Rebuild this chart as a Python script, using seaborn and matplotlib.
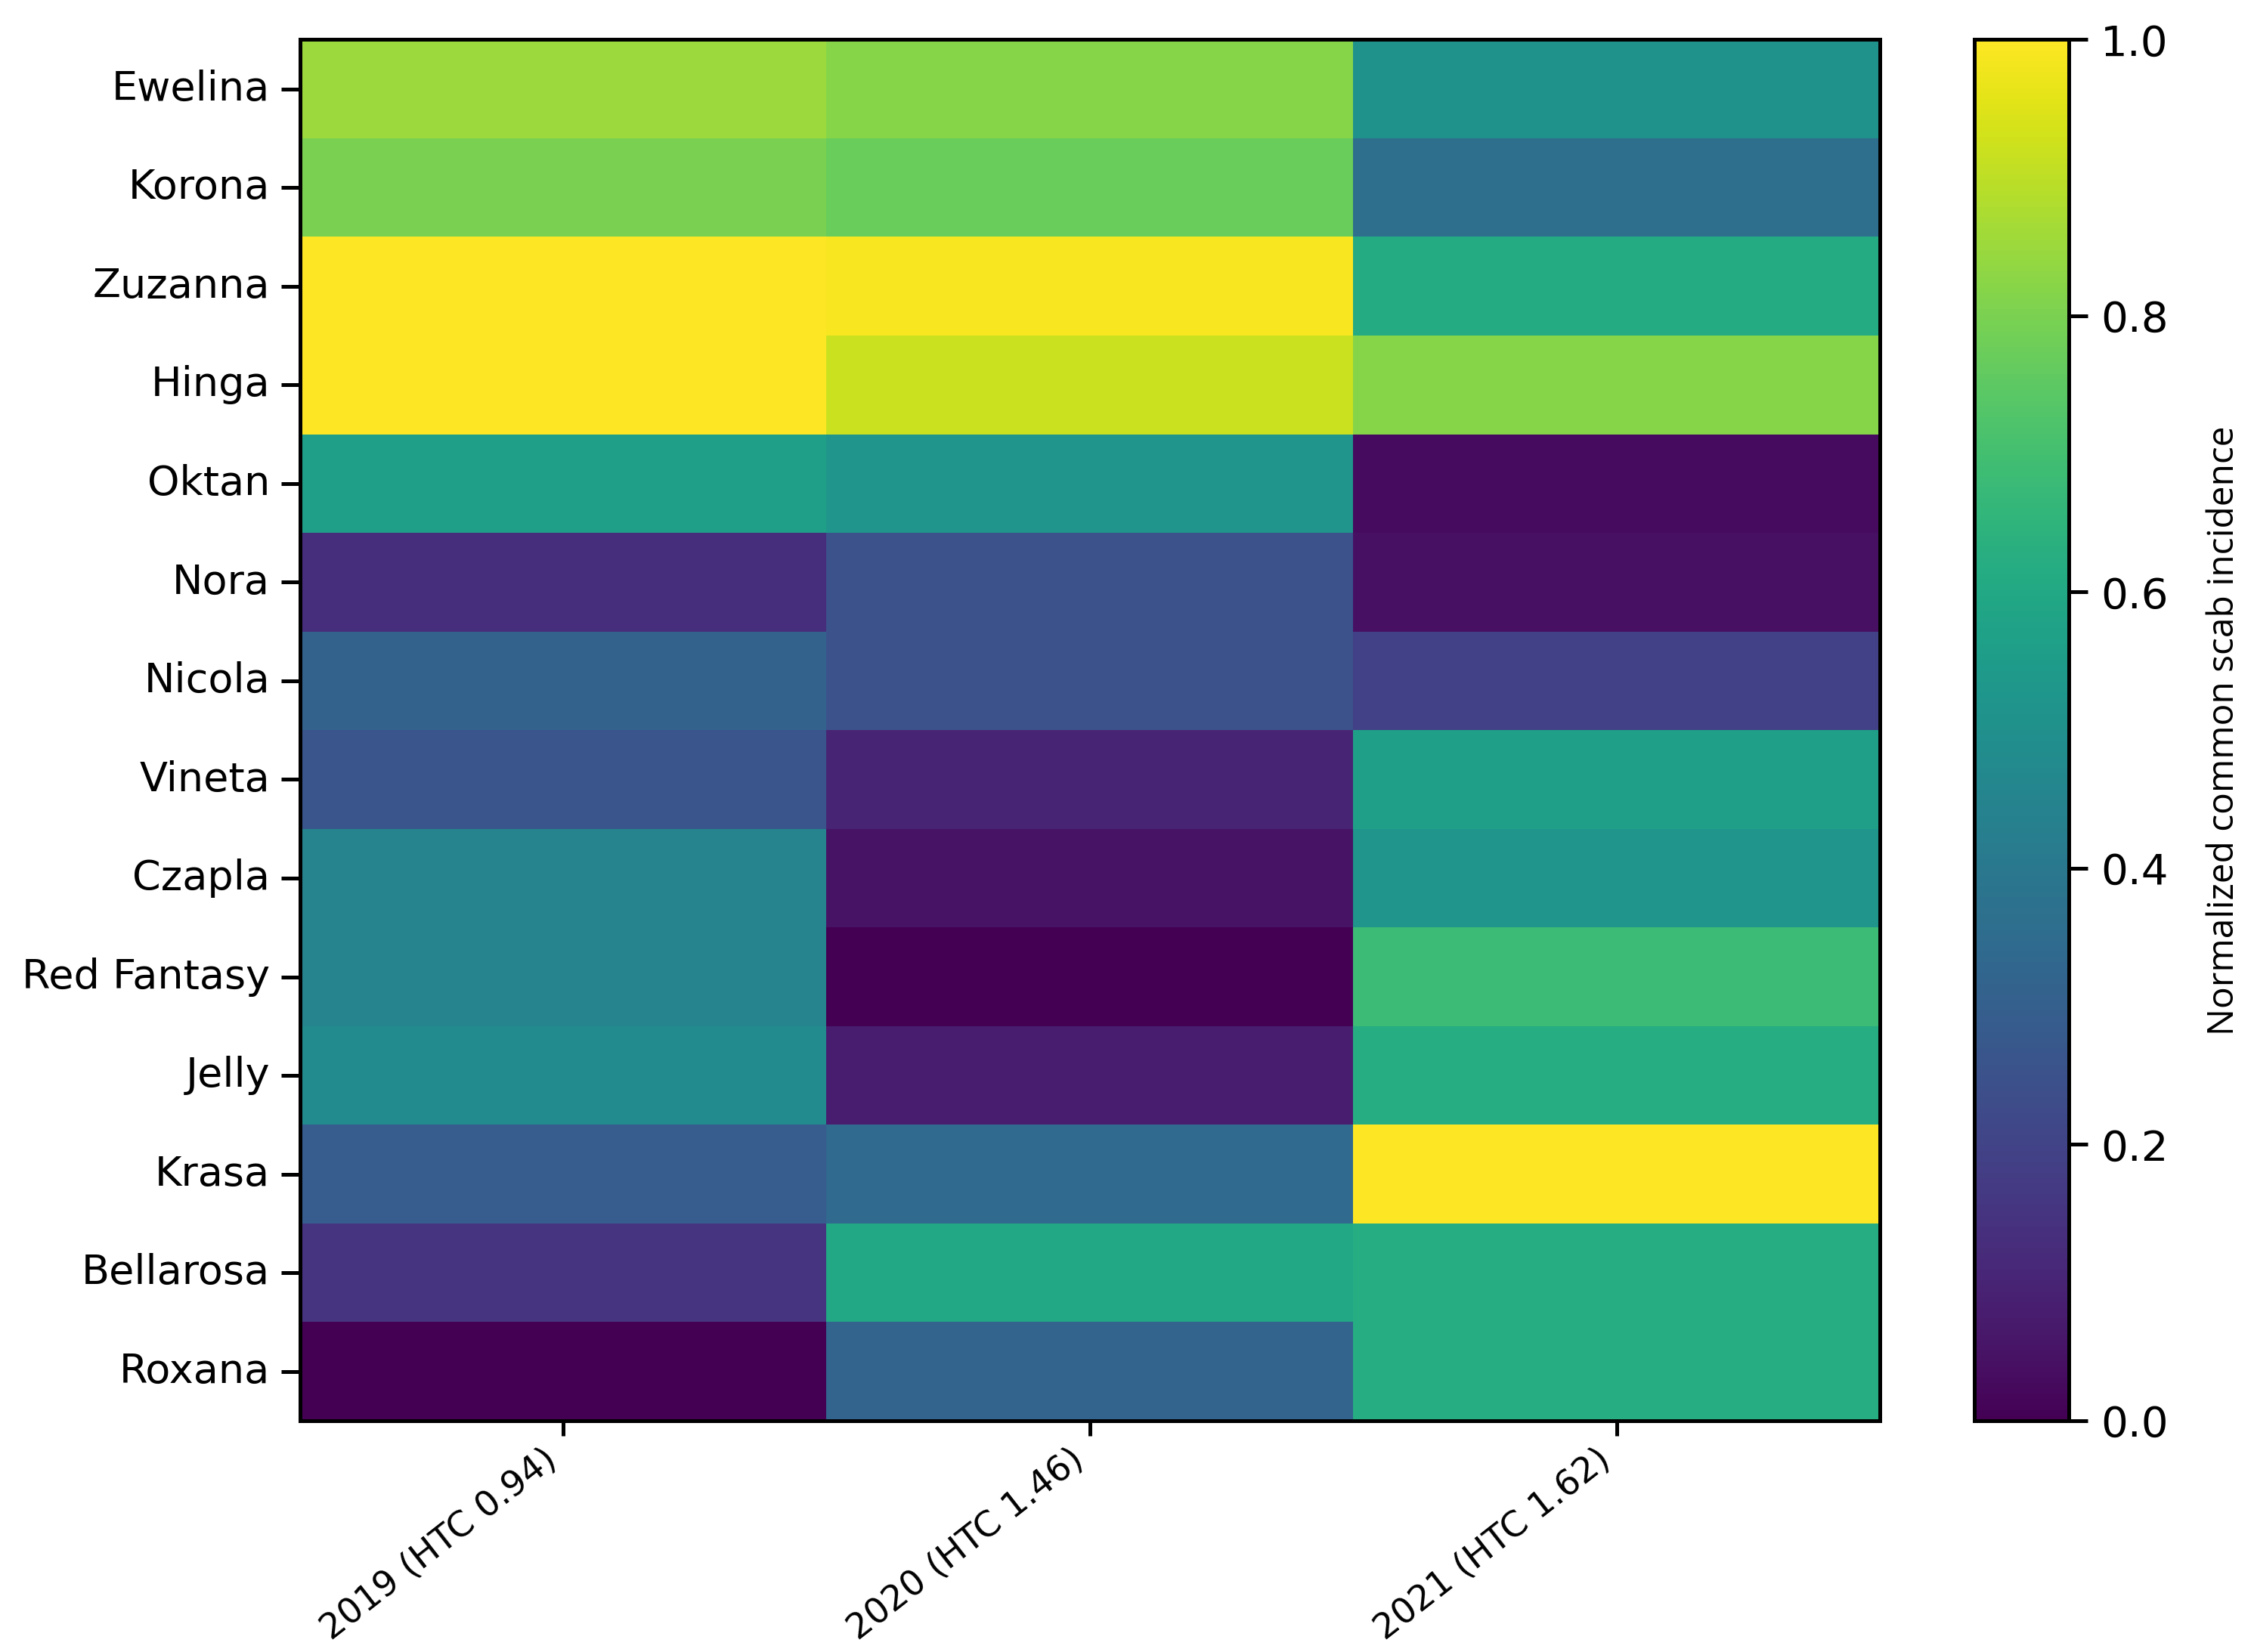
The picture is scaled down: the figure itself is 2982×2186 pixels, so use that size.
import numpy as np
import pandas as pd
import matplotlib
matplotlib.use('Agg')
import matplotlib.pyplot as plt
import seaborn as sns

cultivars = ['Ewelina', 'Korona', 'Zuzanna', 'Hinga', 'Oktan', 'Nora', 'Nicola',
             'Vineta', 'Czapla', 'Red Fantasy', 'Jelly', 'Krasa', 'Bellarosa', 'Roxana']
seasons = ['2019 (HTC 0.94)', '2020 (HTC 1.46)', '2021 (HTC 1.62)']

# normalized common scab incidence per season
y2019 = [0.85, 0.80, 1.00, 1.00, 0.56, 0.13, 0.31, 0.26, 0.45, 0.45, 0.48, 0.29, 0.15, 0.00]
y2020 = [0.82, 0.77, 0.99, 0.92, 0.52, 0.25, 0.25, 0.10, 0.05, 0.00, 0.08, 0.34, 0.60, 0.32]
y2021 = [0.51, 0.36, 0.61, 0.82, 0.03, 0.04, 0.19, 0.56, 0.52, 0.68, 0.62, 1.00, 0.62, 0.62]

df = pd.DataFrame({seasons[0]: y2019, seasons[1]: y2020, seasons[2]: y2021},
                  index=cultivars)

fig = plt.figure(figsize=(9.94, 7.287), dpi=300)
ax = fig.add_axes([0.133, 0.140, 0.701, 0.836])
cax = fig.add_axes([0.876, 0.140, 0.042, 0.836])

sns.heatmap(df, cmap='viridis', vmin=0, vmax=1, ax=ax, cbar_ax=cax,
            cbar_kws={'ticks': [0, 0.2, 0.4, 0.6, 0.8, 1.0]})

for s in ax.spines.values():
    s.set_visible(True)
    s.set_color('black')
    s.set_linewidth(1.2)

ax.tick_params(axis='y', length=6, width=1.2, color='black', pad=3.5)
ax.tick_params(axis='x', length=4.7, width=1.2, color='black', pad=2)
ax.set_yticklabels(cultivars, rotation=0, fontsize=13)
ax.set_xticklabels(seasons, rotation=38, ha='right', va='top', fontsize=11.2)
ax.set_xlabel('')
ax.set_ylabel('')

cbar = ax.collections[0].colorbar
cbar.outline.set_visible(True)
cbar.outline.set_edgecolor('black')
cbar.outline.set_linewidth(1.2)
cbar.ax.tick_params(labelsize=13.5, length=6, width=1.2, pad=4)
cbar.ax.set_yticklabels(['0.0', '0.2', '0.4', '0.6', '0.8', '1.0'])
cbar.set_label('Normalized common scab incidence', fontsize=11.5,
               family=['Open Sans', 'DejaVu Sans'], labelpad=12)

fig.savefig('out.png', dpi=300)
